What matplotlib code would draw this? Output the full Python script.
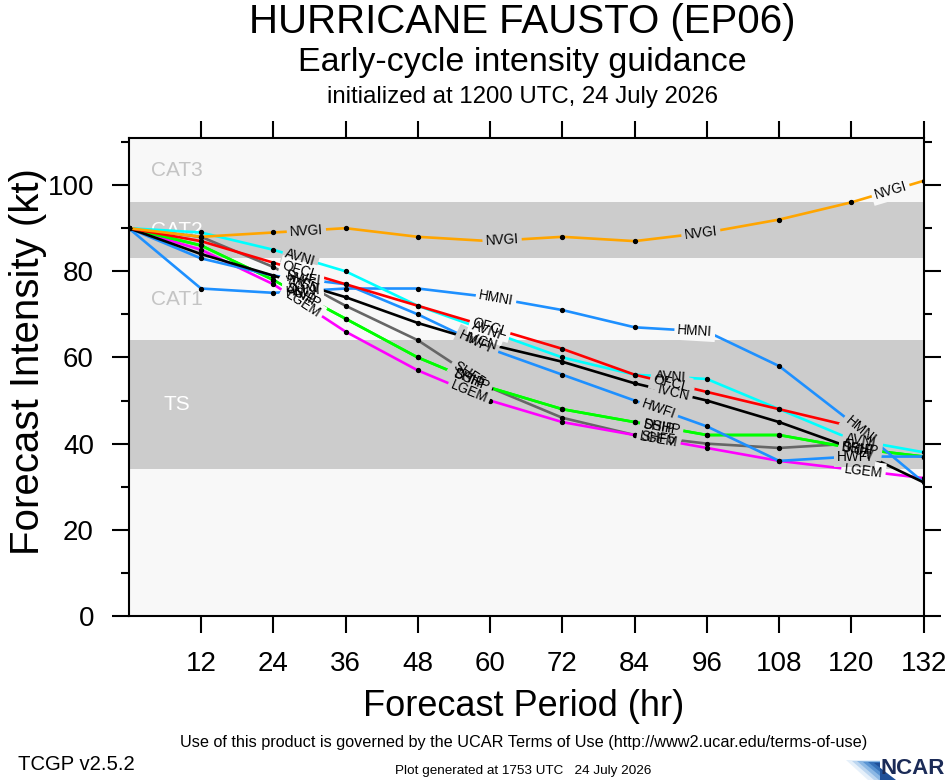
import numpy as np
import matplotlib
matplotlib.use('Agg')
import matplotlib.pyplot as plt
from matplotlib.patches import Polygon
from matplotlib import font_manager

# ---------------- data ----------------
hours = [0, 12, 24, 36, 48, 60, 72, 84, 96, 108, 120, 132]
NVGI = [90, 88, 89, 90, 88, 87, 88, 87, 89, 92, 96, 101]
AVNI = [90, 89, 85, 80, 72, 66, 60, 56, 55, 48, 41, 38]
OFCL = [90, 87, 82, 77, 72, 67, 62, 56, 52, 48, 44]
IVCN = [90, 84, 79, 74, 68, 63, 59, 54, 50, 45, 39, 31]
HWFI = [90, 83, 79, 77, 70, 62, 56, 50, 44, 36, 37, 37]
HMNI = [90, 76, 75, 76, 76, 74, 71, 67, 66, 58, 45, 31]
SHF5 = [90, 88, 81, 72, 64, 53, 46, 42, 40, 39, 40]
SHIP = [90, 86, 78, 69, 60, 53, 48, 45, 42, 42, 39, 37]
DSHP = [90, 86, 78, 69, 60, 53, 48, 45, 42, 42, 39, 37]
LGEM = [90, 85, 77, 66, 57, 50, 45, 42, 39, 36, 34, 32]

models = ['SHF5', 'LGEM', 'DSHP', 'SHIP', 'HWFI', 'HMNI', 'IVCN', 'AVNI', 'OFCL', 'NVGI']
values = {'NVGI': NVGI, 'AVNI': AVNI, 'OFCL': OFCL, 'IVCN': IVCN, 'HWFI': HWFI,
          'HMNI': HMNI, 'SHF5': SHF5, 'SHIP': SHIP, 'DSHP': DSHP, 'LGEM': LGEM}
colors = {'NVGI': '#ffa500', 'AVNI': '#00ffff', 'OFCL': '#ff0000', 'IVCN': '#000000',
          'HWFI': '#1e90ff', 'HMNI': '#1e90ff', 'SHF5': '#666666', 'SHIP': '#00ff00',
          'DSHP': '#00ff00', 'LGEM': '#ff00ff'}
label_hours = {'NVGI': [29.5, 62, 95, 126.5], 'AVNI': [28.5, 59.5, 90, 121.5],
               'OFCL': [28.5, 60, 90, 121], 'IVCN': [29, 58.5, 90.5, 121],
               'HWFI': [29, 57.5, 88, 120.5], 'HMNI': [29, 61, 94, 121.5],
               'SHF5': [28.5, 56.5, 88, 121], 'SHIP': [28.5, 56.5, 88, 121],
               'DSHP': [29, 57, 88.5, 121.5], 'LGEM': [29, 56.5, 88, 122]}

bands = [(34, 64, 'TS'), (64, 83, 'CAT1'), (83, 96, 'CAT2'), (96, 113, 'CAT3')]
band_dark = {'TS': True, 'CAT1': False, 'CAT2': True, 'CAT3': False}
xticks = [12, 24, 36, 48, 60, 72, 84, 96, 108, 120, 132]
yticks = [0, 20, 40, 60, 80, 100]

# ---------------- fonts ----------------
avail = {f.name for f in font_manager.fontManager.ttflist}
narrow = 'Liberation Sans Narrow' if 'Liberation Sans Narrow' in avail else 'Liberation Sans'
plt.rcParams['font.family'] = [narrow, 'DejaVu Sans']

DARK = '#cccccc'
LIGHT = '#f8f8f8'

fig = plt.figure(figsize=(9.46, 7.80), dpi=100)
ax = fig.add_axes([128.7 / 946, 1 - 616 / 780, (923.7 - 128.7) / 946, (616 - 137.7) / 780])
ax.set_xlim(0, 132)
ax.set_ylim(0, 111)
ax.set_facecolor(LIGHT)

for lo, hi, name in bands:
    col = DARK if band_dark[name] else LIGHT
    ax.axhspan(lo, hi, color=col, zorder=0, lw=0)
    tc = 'white' if band_dark[name] else '#c4c4c4'
    ax.text(8, (lo + min(hi, 111)) / 2, name, ha='center', va='center', fontsize=15,
            color=tc, zorder=1, family='Liberation Sans')


def band_color(y):
    for lo, hi, name in bands:
        if lo <= y < hi:
            return DARK if band_dark[name] else LIGHT
    return LIGHT


for m in models:
    v = values[m]
    h = hours[:len(v)]
    ax.plot(h, v, color=colors[m], lw=1.9, zorder=3, solid_capstyle='butt')
    ax.plot(h, v, 'o', color='black', ms=2.8, zorder=4)

fig.canvas.draw()
for m in models:
    v = np.array(values[m], dtype=float)
    h = np.array(hours[:len(v)], dtype=float)
    for lh in label_hours[m]:
        if lh > h[-1]:
            continue
        ly = float(np.interp(lh, h, v))
        i = min(int(np.searchsorted(h, lh, side='right')) - 1, len(h) - 2)
        p0 = ax.transData.transform((h[i], v[i]))
        p1 = ax.transData.transform((h[i + 1], v[i + 1]))
        ang = np.degrees(np.arctan2(p1[1] - p0[1], p1[0] - p0[0]))
        kw = dict(rotation=ang, rotation_mode='anchor', ha='center', va='center',
                  fontsize=9.8, family='Liberation Sans')
        ax.text(lh, ly, m, color='none', zorder=5,
                bbox=dict(boxstyle='square,pad=0.22', fc=band_color(ly), ec='none'), **kw)
        ax.text(lh, ly, m, color='black', zorder=6, **kw)

ax.set_xticks(xticks)
ax.set_xticklabels([str(t) for t in xticks])
ax.set_yticks(yticks)
ax.set_yticks([10, 30, 50, 70, 90, 110], minor=True)
ax.tick_params(which='both', direction='out', top=True, right=True,
               labeltop=False, labelright=False, width=1.5, colors='black')
ax.tick_params(which='major', length=12, labelsize=20, pad=13)
ax.tick_params(which='minor', length=6)
ax.tick_params(axis='x', which='minor', bottom=False, top=False)
for s in ax.spines.values():
    s.set_linewidth(1.5)
    s.set_zorder(10)

# titles
cx = 522 / 946
fig.text(cx, 1 - 22 / 780, 'HURRICANE FAUSTO (EP06)', ha='center', va='center', fontsize=29)
fig.text(cx, 1 - 63 / 780, 'Early-cycle intensity guidance', ha='center', va='center', fontsize=24.5)
fig.text(cx, 1 - 97 / 780, 'initialized at 1200 UTC, 24 July 2026', ha='center', va='center', fontsize=17.3)

fig.text(28 / 946, 1 - 362 / 780, 'Forecast Intensity (kt)', rotation=90, ha='center', va='center', fontsize=29)
fig.text(524 / 946, 1 - 707 / 780, 'Forecast Period (hr)', ha='center', va='center', fontsize=26)

fig.text(524 / 946, 1 - 742 / 780,
         'Use of this product is governed by the UCAR Terms of Use (http://www2.ucar.edu/terms-of-use)',
         ha='center', va='center', fontsize=11.7)
fig.text(18 / 946, 1 - 765 / 780, 'TCGP v2.5.2', ha='left', va='center', fontsize=14.6)
fig.text(523 / 946, 1 - 771 / 780, 'Plot generated at 1753 UTC   24 July 2026',
         ha='center', va='center', fontsize=9.7)

# NCAR logo
def fpx(x, y):
    return (x / 946, 1 - y / 780)

shades = ['#e6f0fa', '#bcd6f0', '#8cb8e4', '#5a94d2', '#3470b8', '#1f4f98']
for k, c in enumerate(shades):
    x0 = 846 + k * 5.5
    pts = [fpx(x0, 760 + k * 0.6), fpx(880, 760 + k * 0.6), fpx(880, 780), fpx(x0 + 22, 780)]
    fig.patches.append(Polygon(pts, closed=True, transform=fig.transFigure,
                               fc=c, ec='none', zorder=1))
fig.text(945 / 946, 1 - 769 / 780, 'NCAR', ha='right', va='center', fontsize=16,
         fontweight='bold', color='#1b2b57', family='Liberation Sans')

fig.savefig('out.png', dpi=100)
